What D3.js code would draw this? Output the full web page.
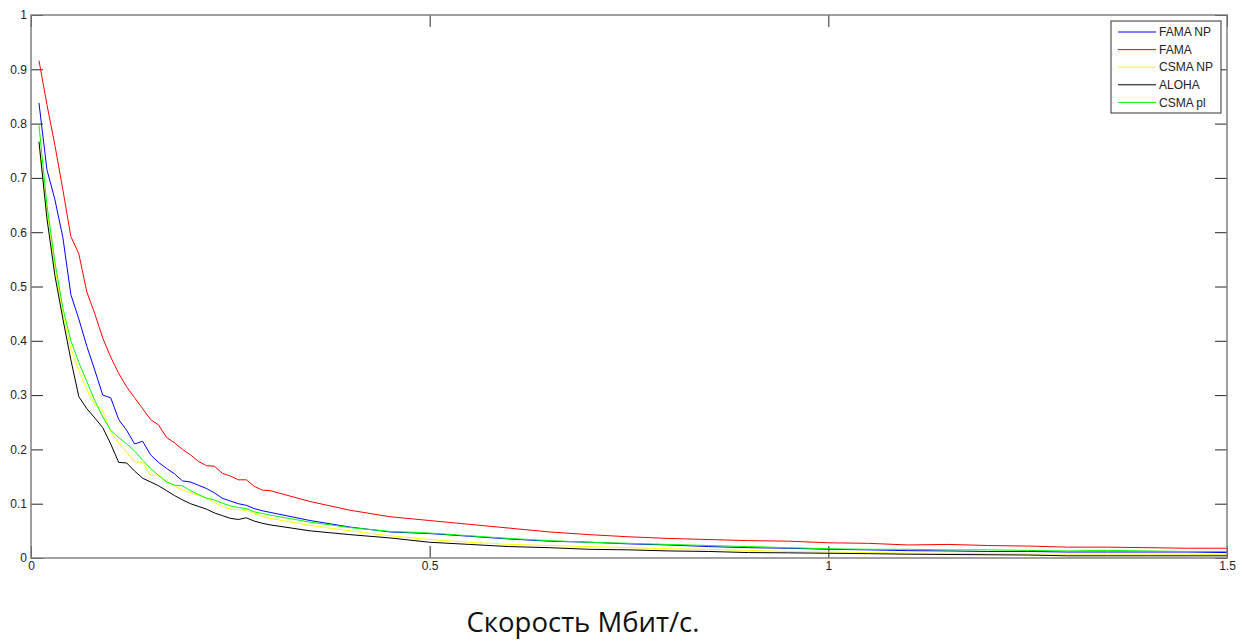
<!DOCTYPE html>
<html>
<head>
<meta charset="utf-8">
<script src="https://cdn.jsdelivr.net/npm/d3@7"></script>
<style>
  html, body { margin: 0; padding: 0; background: #fff; }
  svg { display: block; }
  .tick-label { font-family: "Liberation Sans", Arial, sans-serif; font-size: 12px; fill: #222; }
  .legend-label { font-family: "Liberation Sans", Arial, sans-serif; font-size: 12px; fill: #222; }
  .x-title { font-family: "Open Sans", "Noto Sans", sans-serif; font-size: 27.5px; fill: #111; }
</style>
</head>
<body>
<svg id="chart" width="1245" height="642"></svg>
<script>
// Speed grid (Mbit/s): fine steps near zero, coarser further out
const speeds = [
  0.01, 0.02, 0.03, 0.04, 0.05, 0.06, 0.07, 0.08, 0.09, 0.10,
  0.11, 0.12, 0.13, 0.14, 0.15, 0.16, 0.17, 0.18, 0.19, 0.20,
  0.21, 0.22, 0.23, 0.24, 0.25, 0.26, 0.27, 0.28, 0.29, 0.30,
  0.35, 0.40, 0.45, 0.50, 0.55, 0.60, 0.65, 0.70, 0.75, 0.80,
  0.85, 0.90, 0.95, 1.00, 1.05, 1.10, 1.15, 1.20, 1.25, 1.30,
  1.35, 1.40, 1.45, 1.50
];

const famaNp = [
  0.838, 0.715, 0.660, 0.590, 0.485, 0.440, 0.390, 0.346, 0.300, 0.295,
  0.255, 0.235, 0.210, 0.215, 0.190, 0.176, 0.165, 0.155, 0.142, 0.140,
  0.134, 0.128, 0.120, 0.110, 0.105, 0.100, 0.097, 0.091, 0.087, 0.084,
  0.069, 0.057, 0.048, 0.045, 0.040, 0.035, 0.031, 0.029, 0.026, 0.024,
  0.021, 0.019, 0.018, 0.016, 0.015, 0.0135, 0.013, 0.012, 0.012, 0.011,
  0.011, 0.011, 0.011, 0.010
];

const fama = [
  0.916, 0.835, 0.760, 0.678, 0.592, 0.560, 0.490, 0.450, 0.405, 0.370,
  0.340, 0.315, 0.295, 0.275, 0.255, 0.245, 0.222, 0.212, 0.200, 0.190,
  0.178, 0.170, 0.169, 0.156, 0.151, 0.144, 0.144, 0.132, 0.125, 0.124,
  0.104, 0.088, 0.076, 0.069, 0.062, 0.055, 0.048, 0.043, 0.039, 0.036,
  0.034, 0.032, 0.031, 0.028, 0.027, 0.024, 0.025, 0.023, 0.022, 0.020,
  0.020, 0.019, 0.018, 0.018
];

const csmaNp = [
  0.757, 0.640, 0.535, 0.450, 0.385, 0.345, 0.310, 0.282, 0.272, 0.232,
  0.212, 0.195, 0.177, 0.176, 0.152, 0.153, 0.140, 0.133, 0.125, 0.120,
  0.116, 0.110, 0.102, 0.095, 0.090, 0.089, 0.088, 0.082, 0.077, 0.073,
  0.060, 0.050, 0.041, 0.034, 0.029, 0.025, 0.023, 0.021, 0.019, 0.017,
  0.016, 0.014, 0.012, 0.011, 0.010, 0.009, 0.0085, 0.008, 0.0075, 0.007,
  0.007, 0.007, 0.007, 0.006
];

const aloha = [
  0.767, 0.625, 0.520, 0.440, 0.365, 0.297, 0.275, 0.258, 0.240, 0.210,
  0.176, 0.175, 0.160, 0.147, 0.140, 0.133, 0.124, 0.115, 0.107, 0.100,
  0.095, 0.090, 0.083, 0.078, 0.073, 0.071, 0.074, 0.068, 0.064, 0.061,
  0.050, 0.043, 0.037, 0.029, 0.025, 0.021, 0.019, 0.016, 0.015, 0.013,
  0.012, 0.010, 0.0095, 0.0087, 0.008, 0.007, 0.0065, 0.006, 0.0055, 0.004,
  0.004, 0.004, 0.004, 0.004
];

const csmaPl = [
  0.797, 0.650, 0.545, 0.460, 0.400, 0.360, 0.325, 0.290, 0.260, 0.235,
  0.222, 0.210, 0.197, 0.180, 0.165, 0.152, 0.140, 0.134, 0.133, 0.124,
  0.117, 0.110, 0.107, 0.101, 0.096, 0.093, 0.091, 0.085, 0.082, 0.079,
  0.066, 0.056, 0.049, 0.046, 0.041, 0.036, 0.032, 0.029, 0.027, 0.025,
  0.023, 0.021, 0.019, 0.017, 0.016, 0.016, 0.015, 0.015, 0.014, 0.013,
  0.014, 0.013, 0.012, 0.012
];

const seriesNames = ["FAMA NP", "FAMA", "CSMA NP", "ALOHA", "CSMA pl"];
const seriesValues = [famaNp, fama, csmaNp, aloha, csmaPl];
const seriesColors = ["#0000ff", "#ff0000", "#ffff00", "#000000", "#00ff00"];

const xTicks = [0, 0.5, 1, 1.5];
const yTicks = [0, 0.1, 0.2, 0.3, 0.4, 0.5, 0.6, 0.7, 0.8, 0.9, 1];
const xTitle = "Скорость Мбит/с.";

// Plot frame
const frame = { left: 31, right: 1227, top: 15, bottom: 558 };
const svg = d3.select("#chart");

const x = d3.scaleLinear().domain([0, 1.5]).range([frame.left, frame.right]);
const y = d3.scaleLinear().domain([0, 1]).range([frame.bottom, frame.top]);

const tickLen = 12;

// Axes with inward ticks on all four sides
const axisBottom = d3.axisBottom(x).tickValues(xTicks).tickSize(-tickLen).tickPadding(3).tickFormat(d3.format("~g"));
const axisTop = d3.axisTop(x).tickValues(xTicks).tickSize(-tickLen).tickFormat("");
const axisLeft = d3.axisLeft(y).tickValues(yTicks).tickSize(-tickLen).tickPadding(4).tickFormat(d3.format("~g"));
const axisRight = d3.axisRight(y).tickValues(yTicks).tickSize(-tickLen).tickFormat("");

function styleAxis(g) {
  g.select(".domain").remove();
  g.selectAll(".tick line").attr("stroke", "#262626").attr("stroke-width", 1);
  g.selectAll(".tick text").attr("class", "tick-label").attr("font-family", null).attr("font-size", null);
}

svg.append("g").attr("transform", `translate(0,${frame.bottom})`).call(axisBottom).call(styleAxis);
svg.append("g").attr("transform", `translate(0,${frame.top})`).call(axisTop).call(styleAxis);
svg.append("g").attr("transform", `translate(${frame.left},0)`).call(axisLeft).call(styleAxis);
svg.append("g").attr("transform", `translate(${frame.right},0)`).call(axisRight).call(styleAxis);

// Data lines
const line = d3.line()
  .x((d, i) => x(speeds[i]))
  .y(d => y(d));

const plot = svg.append("g");
seriesValues.forEach((vals, k) => {
  plot.append("path")
    .datum(vals)
    .attr("fill", "none")
    .attr("stroke", seriesColors[k])
    .attr("stroke-width", 1)
    .attr("d", line);
});

// Box around the plot area
svg.append("rect")
  .attr("x", frame.left).attr("y", frame.top)
  .attr("width", frame.right - frame.left).attr("height", frame.bottom - frame.top)
  .attr("fill", "none")
  .attr("stroke", "#808080")
  .attr("stroke-width", 1.5);

// Legend
const legend = svg.append("g").attr("transform", "translate(1111,21)");
legend.append("rect")
  .attr("x", 0).attr("y", 0)
  .attr("width", 110).attr("height", 92)
  .attr("fill", "#fff")
  .attr("stroke", "#333")
  .attr("stroke-width", 1);
seriesNames.forEach((name, k) => {
  const ry = 11 + k * 17.6;
  legend.append("line")
    .attr("x1", 7).attr("x2", 45)
    .attr("y1", ry).attr("y2", ry)
    .attr("stroke", seriesColors[k])
    .attr("stroke-width", 1);
  legend.append("text")
    .attr("class", "legend-label")
    .attr("x", 48).attr("y", ry)
    .attr("dy", "0.35em")
    .text(name);
});

// X axis title
svg.append("text")
  .attr("class", "x-title")
  .attr("x", 583).attr("y", 632)
  .attr("text-anchor", "middle")
  .text(xTitle);
</script>
</body>
</html>
